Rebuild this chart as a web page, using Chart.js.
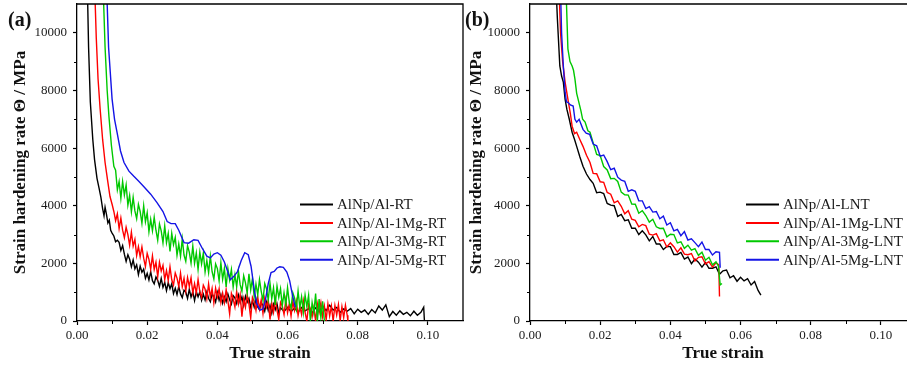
<!DOCTYPE html>
<html><head><meta charset="utf-8">
<script src="https://cdn.jsdelivr.net/npm/chart.js@4.4.1/dist/chart.umd.min.js"></script>
<style>
html,body{margin:0;padding:0;background:#fff;overflow:hidden;}
#wrap{position:relative;width:907px;height:372px;overflow:hidden;background:#fff;}
canvas{position:absolute;top:0;}
.lab{position:absolute;font:bold 20px 'Liberation Serif',serif;line-height:20px;color:#111;}
</style></head><body>
<div id="wrap">
<canvas id="ca" width="470" height="372" style="left:0px"></canvas>
<canvas id="cb" width="460" height="372" style="left:466px"></canvas>
<div class="lab" style="left:8px;top:9px">(a)</div>
<div class="lab" style="left:465px;top:9px">(b)</div>
</div>
<script>
// ---------- DATA (true strain, strain hardening rate in MPa) ----------
const labelsRT = ['AlNp/Al-RT','AlNp/Al-1Mg-RT','AlNp/Al-3Mg-RT','AlNp/Al-5Mg-RT'];
const labelsLNT = ['AlNp/Al-LNT','AlNp/Al-1Mg-LNT','AlNp/Al-3Mg-LNT','AlNp/Al-5Mg-LNT'];
const xTickLabels = ['0.00','0.02','0.04','0.06','0.08','0.10'];
const yTickLabels = ['0','2000','4000','6000','8000','10000'];

const rtBlack = [[0.0028,12500],[0.0033,9500],[0.0038,7600],[0.0045,6300],[0.005,5600],[0.0057,4950],[0.0063,4600],[0.0068,4300],[0.0073,3900],[0.0077,3650],[0.008,3950],[0.0084,3700],[0.0088,3400],[0.0092,3500],[0.0096,3150],[0.01,3050],[0.0105,2950],[0.011,2750],[0.0115,2800],
[0.012,2730],[0.0125,2450],[0.013,2620],[0.0135,2320],[0.014,2070],[0.0145,2300],[0.015,2140],[0.0155,1880],[0.016,2120],[0.0165,1810],[0.017,1950],[0.0175,1610],[0.018,1900],[0.0185,1690],[0.019,1800],[0.0195,1480],[0.02,1650],[0.0205,1420],[0.021,1710],[0.0215,1400],[0.022,1290],[0.0225,1530],[0.023,1410],[0.0235,1200],[0.024,1480],[0.0245,1170],[0.025,1340],[0.0255,1050],[0.026,1330],[0.0265,1120],[0.027,1290],[0.0275,950],[0.028,1140],[0.0285,920],[0.029,1200],[0.0295,940],[0.03,810],[0.0305,1070],[0.031,1000],[0.0315,780],[0.032,1100],[0.0325,830],[0.033,1020],[0.0335,710],[0.034,1020],[0.0345,840],[0.035,1010],[0.0355,720],[0.036,930],[0.0365,730],[0.037,1010],[0.0375,780],[0.038,670],[0.0385,940],[0.039,830],[0.0395,660],[0.04,990],[0.0405,720],[0.041,920],[0.0415,620],[0.042,840],[0.0425,670],[0.043,940],[0.0435,740],[0.044,590],[0.0445,880],[0.045,800],[0.0455,610],[0.046,900],[0.0465,640],[0.047,840],[0.0475,540],[0.048,860],[0.0485,650],[0.049,780],[0.0495,480],[0.05,700],[0.0505,480],[0.051,760],[0.0515,490],[0.052,390],[0.0525,640],[0.053,540],[0.0535,340],[0.054,650],[0.0545,360],[0.055,550],[0.0555,270],[0.056,580],[0.0565,390],[0.057,590],[0.0575,270],[0.058,460],
[0.059,330],[0.060,470],[0.061,320],[0.062,450],[0.063,300],[0.064,470],[0.065,350],[0.066,430],[0.067,280],[0.068,460],[0.069,330],[0.070,520],[0.071,360],[0.072,550],[0.073,380],[0.074,470],[0.075,300],[0.076,420],[0.077,340],[0.078,430],[0.079,250],[0.080,410],[0.081,300],[0.082,380],[0.083,230],[0.084,400],[0.085,280],[0.086,520],[0.087,380],[0.088,560],[0.089,150],[0.090,330],[0.091,200],[0.092,350],[0.093,230],[0.094,300],[0.095,180],[0.096,340],[0.097,200],[0.098,300],[0.0988,480],[0.099,20]];

const rtRed = [[0.0048,12500],[0.0055,9800],[0.006,8400],[0.0066,7350],[0.0073,6300],[0.008,5500],[0.0087,4900],[0.0094,4320],[0.01,4050],[0.0105,3800],
[0.011,3480],[0.0115,3720],[0.012,3210],[0.0125,3570],[0.013,3150],[0.0135,2890],[0.014,3250],[0.0145,3000],[0.015,2630],[0.0155,3080],[0.016,2600],[0.0165,2830],[0.017,2270],[0.0175,2580],[0.018,2230],[0.0185,2570],[0.019,2180],[0.0195,1890],[0.02,2350],[0.0205,2140],[0.021,1800],[0.0215,2260],[0.022,1790],[0.0225,2040],[0.023,1540],[0.0235,2040],[0.024,1730],[0.0245,1930],[0.025,1440],[0.0255,1750],[0.026,1410],[0.0265,1880],[0.027,1430],[0.0275,1250],[0.028,1670],[0.0285,1490],[0.029,1200],[0.0295,1660],[0.03,1190],[0.0305,1480],[0.031,1040],[0.0315,1510],[0.032,1200],[0.0325,1500],[0.033,970],[0.0335,1300],[0.034,970],[0.0345,1440],[0.035,1010],[0.0355,820],[0.036,1240],[0.0365,1110],[0.037,770],[0.0375,1290],[0.038,830],[0.0385,1130],[0.039,630],[0.0395,1140],[0.04,830],[0.0405,1120],[0.041,640],[0.0415,970],[0.042,640],[0.0425,1090],[0.043,700],[0.0435,250],[0.044,960],[0.0445,770],[0.045,490],[0.0455,1030],[0.046,590],[0.0465,910],[0.047,150],[0.0475,770],[0.048,480],[0.0485,910],[0.049,590],[0.0495,100],[0.05,820],[0.0505,680],[0.051,370],[0.0515,840],[0.052,420],[0.0525,730],[0.053,260],[0.0535,790],[0.054,480],[0.0545,720],[0.055,50],[0.0555,620],[0.056,300],[0.0565,780],[0.057,370],[0.0575,60],[0.058,650],[0.0585,520],[0.059,230],[0.0595,730],[0.06,290],[0.0605,600],[0.061,170],[0.0615,680],[0.062,370],[0.0625,690],[0.063,190],[0.0635,510],[0.064,230],[0.0645,710],[0.065,300],[0.0655,0],[0.066,580],[0.0665,430],[0.067,140],[0.0675,470],[0.068,0],[0.0685,600],[0.069,300],[0.0695,640],[0.07,150],[0.0705,520],[0.071,40],[0.0715,590],[0.072,180],[0.0725,520],[0.073,0],[0.0735,540],[0.074,210],[0.0745,570],[0.075,20],[0.0755,500],[0.076,120],[0.0765,550],[0.077,200],[0.0772,0]];

const rtGreen = [[0.0072,12500],[0.008,9500],[0.0086,8000],[0.0091,7100],[0.0098,6100],[0.0105,5370],
[0.011,5230],[0.0115,4550],[0.012,4840],[0.0125,4260],[0.013,4840],[0.0135,4370],[0.014,4720],[0.0145,4020],[0.015,4360],[0.0155,3790],[0.016,4290],[0.0165,3820],[0.017,3550],[0.0175,4050],[0.018,3800],[0.0185,3390],[0.019,4000],[0.0195,3440],[0.02,3760],[0.0205,3100],[0.021,3530],[0.0215,3130],[0.022,3600],[0.0225,3150],[0.023,2800],[0.0235,3370],[0.024,3130],[0.0245,2710],[0.025,3300],[0.0255,2720],[0.026,3040],[0.0265,2410],[0.027,3040],[0.0275,2650],[0.028,2900],[0.0285,2280],[0.029,2670],[0.0295,2250],[0.03,2850],[0.0305,2290],[0.031,2070],[0.0315,2610],[0.032,2390],[0.0325,2010],[0.033,2600],[0.0335,2000],[0.034,2360],[0.0345,1790],[0.035,2390],[0.0355,1980],[0.036,2360],[0.0365,1700],[0.037,2100],[0.0375,1680],[0.038,2250],[0.0385,1710],[0.039,1460],[0.0395,1980],[0.04,1820],[0.0405,1390],[0.041,2020],[0.0415,1450],[0.042,1820],[0.0425,1180],[0.043,1820],[0.0435,1430],[0.044,1790],[0.0445,1180],[0.045,1600],[0.0455,1190],[0.046,1740],[0.0465,1260],[0.047,1030],[0.0475,1570],[0.048,1330],[0.0485,970],[0.049,1640],[0.0495,1080],[0.05,1470],[0.0505,840],[0.051,1280],[0.0515,910],[0.052,1440],[0.0525,1030],[0.053,710],[0.0535,1300],[0.054,1120],[0.0545,730],[0.055,1310],[0.0555,770],[0.056,1150],[0.0565,560],[0.057,1210],[0.0575,820],[0.058,1120],[0.0585,530],[0.059,980],[0.0595,560],[0.06,1160],[0.0605,640],[0.061,450],[0.0615,980],[0.062,800],[0.0625,420],[0.063,1040],[0.0635,470],[0.064,840],[0.0645,290],[0.065,900],[0.0655,500],[0.066,890],[0.0665,0],[0.067,640],[0.0675,280],[0.068,950],[0.0685,0],[0.069,760],[0.0695,120],[0.07,680],[0.0705,0]];

const rtBlue = [[0.0082,12500],[0.009,9500],[0.01,7700],[0.0107,7000],[0.0114,6550],[0.0124,5900],[0.0134,5500],[0.0148,5200],[0.0162,5020],[0.0176,4850],[0.019,4670],[0.021,4400],[0.0228,4110],[0.0245,3800],[0.0257,3450],[0.0268,3380],[0.028,3380],[0.029,3150],[0.0305,2720],[0.0318,2700],[0.0333,2820],[0.0345,2800],[0.0358,2500],[0.037,2250],[0.038,2190],[0.039,2320],[0.040,2370],[0.041,2280],[0.042,2050],[0.043,1700],[0.0437,1430],[0.0447,1550],[0.0457,1700],[0.0468,2100],[0.0478,2370],[0.0488,2300],[0.0496,1900],[0.0505,1100],[0.0512,600],[0.0522,380],[0.053,420],[0.0537,730],[0.0545,1300],[0.0553,1680],[0.0562,1720],[0.057,1840],[0.0578,1880],[0.0588,1860],[0.0598,1700],[0.0606,1400],[0.0614,900],[0.0622,480]];

const lntBlack = [[0.0071,12500],[0.0078,10500],[0.0085,8850],[0.009,8500],[0.0095,8290],[0.01,7700],[0.0105,7350],[0.0112,7000],[0.012,6550],[0.0127,6300],[0.0133,6060],[0.0142,5700],[0.0151,5370],[0.0161,5100],[0.0171,4910],
[0.018,4780],[0.019,4450],[0.020,4470],[0.021,4420],[0.022,4080],[0.023,4020],[0.024,4000],[0.025,3630],[0.026,3700],[0.027,3480],[0.028,3510],[0.029,3220],[0.030,3220],[0.031,3000],[0.032,3130],[0.033,2990],[0.034,2780],[0.035,2930],[0.036,2670],[0.037,2670],[0.038,2480],[0.039,2590],[0.040,2580],[0.041,2310],[0.042,2310],[0.043,2380],[0.044,2150],[0.045,2220],[0.046,1990],[0.047,2150],[0.048,2040],[0.049,1870],[0.050,2030],[0.051,1830],[0.052,1830],[0.053,1880],[0.054,1620],[0.055,1740],[0.056,1770],[0.057,1500],[0.058,1570],[0.059,1380],[0.060,1520],[0.061,1390],[0.062,1470],[0.063,1250],[0.064,1370],[0.065,1060],[0.0658,900]];

const lntRed = [[0.008,12500],[0.0087,10000],[0.0093,9000],[0.01,8290],[0.0108,7700],[0.0115,7200],[0.012,6760],[0.0127,6500],[0.0133,6550],[0.0142,6300],[0.0151,6060],[0.0161,5750],[0.0171,5500],
[0.018,5120],[0.019,5110],[0.020,4830],[0.021,4810],[0.022,4460],[0.023,4400],[0.024,4100],[0.025,4170],[0.026,3980],[0.027,3720],[0.028,3830],[0.029,3530],[0.030,3490],[0.031,3270],[0.032,3350],[0.033,3310],[0.034,3010],[0.035,2980],[0.036,3030],[0.037,2780],[0.038,2820],[0.039,2570],[0.040,2710],[0.041,2580],[0.042,2390],[0.043,2540],[0.044,2320],[0.045,2300],[0.046,2340],[0.047,2080],[0.048,2210],[0.049,2230],[0.050,1980],[0.051,2060],[0.052,1870],[0.053,2020],[0.0538,1950],[0.054,850]];

const lntGreen = [[0.01,12500],[0.0104,11000],[0.0108,9440],[0.0114,9000],[0.012,8850],[0.0124,8700],[0.0128,8400],[0.0133,7900],[0.0137,7700],[0.0145,7300],[0.015,7000],[0.0157,6900],[0.0165,6600],[0.0171,6550],
[0.018,6180],[0.019,5780],[0.020,5740],[0.021,5360],[0.022,5240],[0.023,4940],[0.024,4950],[0.025,4840],[0.026,4470],[0.027,4380],[0.028,4370],[0.029,4060],[0.030,4050],[0.031,3740],[0.032,3830],[0.033,3660],[0.034,3430],[0.035,3530],[0.036,3270],[0.037,3210],[0.038,3220],[0.039,2920],[0.040,3010],[0.041,3000],[0.042,2710],[0.043,2750],[0.044,2520],[0.045,2630],[0.046,2460],[0.047,2510],[0.048,2280],[0.049,2390],[0.050,2110],[0.051,2210],[0.052,1950],[0.053,2050],[0.0537,1900],[0.0542,1250],[0.0547,1300]];

const lntBlue = [[0.0085,12500],[0.009,10000],[0.0095,8850],[0.01,7940],[0.0104,7600],[0.0108,7590],[0.0115,7500],[0.0123,7460],[0.0128,7000],[0.0133,6900],[0.014,7000],[0.0151,6650],
[0.016,6520],[0.017,6480],[0.018,6140],[0.019,6080],[0.020,5720],[0.021,5760],[0.022,5530],[0.023,5250],[0.024,5300],[0.025,4990],[0.026,4890],[0.027,4850],[0.028,4500],[0.029,4550],[0.030,4500],[0.031,4170],[0.032,4170],[0.033,3900],[0.034,3970],[0.035,3780],[0.036,3800],[0.037,3550],[0.038,3640],[0.039,3330],[0.040,3410],[0.041,3130],[0.042,3180],[0.043,2960],[0.044,3100],[0.045,2810],[0.046,2850],[0.047,2720],[0.048,2580],[0.049,2740],[0.050,2480],[0.051,2480],[0.052,2290],[0.053,2400],[0.054,2380],[0.0542,1850]];

const seriesColors = ['#000000','#ff0000','#00c800','#1414e6'];

// ---------- RENDERING ----------
const FONT = "'Liberation Serif', 'Times New Roman', serif";
const xTickValues = xTickLabels.map(Number);
const yTickValues = yTickLabels.map(Number);

const framePlugin = {
  id: 'frame',
  afterDraw(chart, args, o) {
    const {ctx, chartArea: a, scales: {x, y}} = chart;
    ctx.save();
    ctx.strokeStyle = '#000';
    ctx.lineWidth = 1.3;
    ctx.beginPath();
    ctx.moveTo(a.left, a.top); ctx.lineTo(a.right, a.top); ctx.lineTo(a.right, a.bottom);
    ctx.stroke();
    // minor ticks halfway between major ticks
    ctx.lineWidth = 1;
    ctx.beginPath();
    for (let i = 0; i < xTickValues.length - 1; i++) {
      const px = Math.round(x.getPixelForValue((xTickValues[i] + xTickValues[i + 1]) / 2)) + 0.5;
      ctx.moveTo(px, a.bottom); ctx.lineTo(px, a.bottom + 3);
    }
    for (let i = 0; i < yTickValues.length - 1; i++) {
      const py = Math.round(y.getPixelForValue((yTickValues[i] + yTickValues[i + 1]) / 2)) + 0.5;
      ctx.moveTo(a.left, py); ctx.lineTo(a.left - 3, py);
    }
    ctx.stroke();
    // legend
    ctx.font = '15px ' + FONT;
    ctx.textBaseline = 'middle';
    ctx.textAlign = 'left';
    chart.data.datasets.forEach((ds, i) => {
      const yy = o.y0 + i * o.dy;
      ctx.strokeStyle = ds.borderColor;
      ctx.lineWidth = 2;
      ctx.beginPath(); ctx.moveTo(o.x0, yy); ctx.lineTo(o.x1, yy); ctx.stroke();
      ctx.fillStyle = '#1a1a1a';
      ctx.fillText(ds.label, o.tx, yy + 1);
    });
    ctx.restore();
  }
};

function zeroPad(s) { s.paddingTop = 0; s.paddingBottom = 0; s.paddingLeft = 0; s.paddingRight = 0; }

function makeChart(id, series, labels, cfg) {
  const datasets = series.map((s, i) => ({
    label: labels[i],
    data: s.map(p => ({x: p[0], y: p[1]})),
    borderColor: seriesColors[i],
    borderWidth: 1.4,
    pointRadius: 0,
    tension: 0,
    fill: false,
    order: 3 - i
  }));
  return new Chart(document.getElementById(id), {
    type: 'line',
    data: {datasets},
    plugins: [framePlugin],
    options: {
      responsive: false,
      animation: false,
      events: [],
      layout: {padding: {top: 4, right: cfg.padRight, left: 0, bottom: 0}},
      plugins: {
        legend: {display: false},
        tooltip: {enabled: false},
        frame: cfg.legend
      },
      scales: {
        x: {
          type: 'linear', min: 0, max: 0.11, bounds: 'data',
          afterBuildTicks: s => { s.ticks = xTickValues.map(v => ({value: v})); },
          afterFit: s => { s.height = 51; zeroPad(s); },
          ticks: {
            autoSkip: false, maxRotation: 0, padding: 3,
            callback: (v, i) => xTickLabels[i],
            font: {family: FONT, size: 13}, color: '#1a1a1a'
          },
          grid: {drawOnChartArea: false, drawTicks: true, tickLength: 4, color: '#000', tickWidth: 1.2},
          border: {display: true, color: '#000', width: 1.3},
          title: {display: true, text: 'True strain', color: '#111',
            font: {family: FONT, size: 17, weight: 'bold'}, padding: {top: 0, bottom: 8}}
        },
        y: {
          type: 'linear', min: 0, max: 11000, bounds: 'data',
          afterBuildTicks: s => { s.ticks = yTickValues.map(v => ({value: v})); },
          afterFit: s => { s.width = cfg.yWidth; zeroPad(s); },
          ticks: {
            autoSkip: false, padding: 6,
            callback: (v, i) => yTickLabels[i],
            font: {family: FONT, size: 13}, color: '#1a1a1a'
          },
          grid: {drawOnChartArea: false, drawTicks: true, tickLength: 4, color: '#000', tickWidth: 1.2},
          border: {display: true, color: '#000', width: 1.3},
          title: {display: true, text: 'Strain hardening rate \u0398 / MPa', color: '#111',
            font: {family: FONT, size: 17, weight: 'bold'}, padding: {top: cfg.yTitlePad, bottom: 0}}
        }
      }
    }
  });
}

makeChart('ca', [rtBlack, rtRed, rtGreen, rtBlue], labelsRT, {
  padRight: 7, yWidth: 77, yTitlePad: 10,
  legend: {x0: 300, x1: 333, tx: 337, y0: 204.5, dy: 18.4}
});
makeChart('cb', [lntBlack, lntRed, lntGreen, lntBlue], labelsLNT, {
  padRight: 10, yWidth: 64, yTitlePad: 0,
  legend: {x0: 280, x1: 313, tx: 317, y0: 204.5, dy: 18.4}
});
</script>
</body></html>
